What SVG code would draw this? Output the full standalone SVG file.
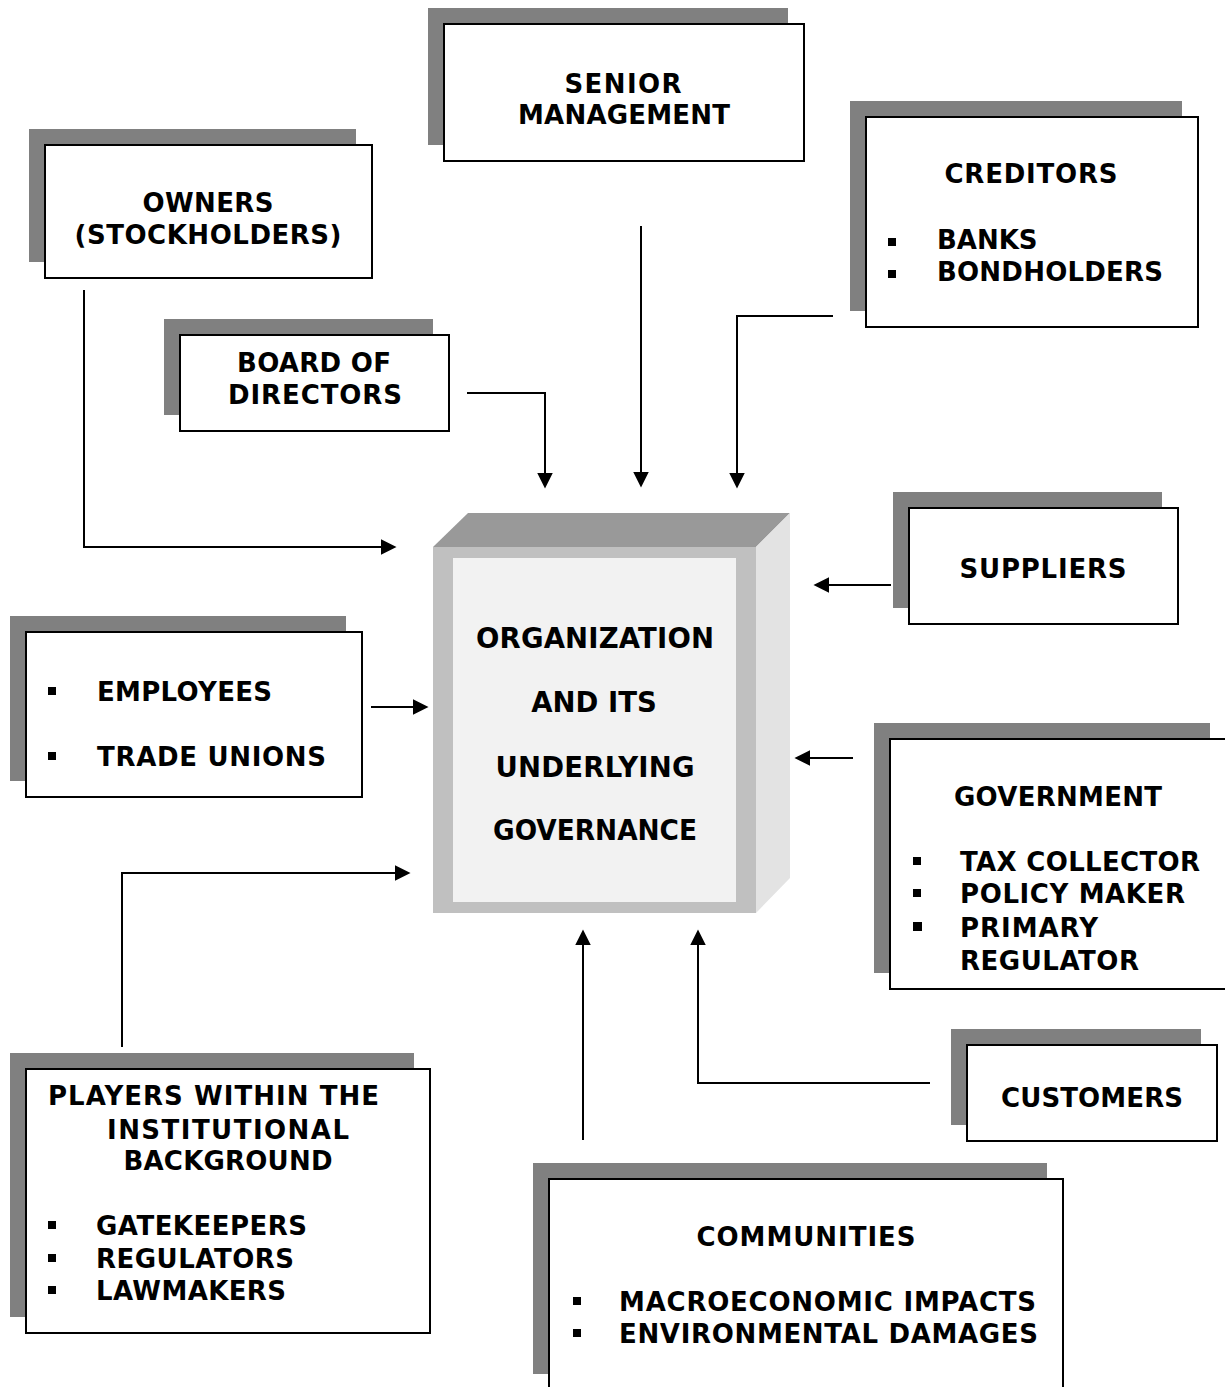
<svg xmlns="http://www.w3.org/2000/svg" width="1225" height="1387" viewBox="0 0 1225 1387">
<style>
.shadow{fill:#808080}
.box{fill:#ffffff;stroke:#000000;stroke-width:2}
.t{font-family:"DejaVu Sans","Verdana",sans-serif;font-weight:bold;font-size:26px;fill:#000000}
.c{text-anchor:middle}
.big{font-size:27.5px}
.bullet{fill:#000000}
.conn{fill:none;stroke:#000000;stroke-width:2}
</style>
<defs>
<marker id="arrow" markerUnits="userSpaceOnUse" markerWidth="16" markerHeight="16" viewBox="0 0 15 15" refX="7" refY="7.5" orient="auto">
<path d="M0,0 L15,7.5 L0,15 z" fill="#000000"/>
</marker>
</defs>
<rect width="1225" height="1387" fill="#ffffff"/>

<g id="organization">
<polygon points="433,547 468,513 790,513 756,547" fill="#999999"/>
<polygon points="756,547 790,513 790,878 756,913" fill="#e3e3e3"/>
<rect x="433" y="547" width="323" height="366" fill="#c0c0c0"/>
<rect x="453" y="558" width="283" height="344" fill="#f2f2f2"/>
<text class="t c big" x="595" y="648" textLength="238" lengthAdjust="spacing">ORGANIZATION</text>
<text class="t c big" x="594" y="712">AND ITS</text>
<text class="t c big" x="595" y="777" textLength="199" lengthAdjust="spacing">UNDERLYING</text>
<text class="t c big" x="595" y="840" textLength="204" lengthAdjust="spacingAndGlyphs">GOVERNANCE</text>
</g>

<g id="senior-management">
<rect class="shadow" x="428" y="8" width="360" height="137"/>
<rect class="box" x="444" y="24" width="360" height="137"/>
<text class="t c" x="623" y="93" textLength="117" lengthAdjust="spacing">SENIOR</text>
<text class="t c" x="624" y="124" textLength="212" lengthAdjust="spacing">MANAGEMENT</text>
</g>

<g id="owners">
<rect class="shadow" x="29" y="129" width="327" height="133"/>
<rect class="box" x="45" y="145" width="327" height="133"/>
<text class="t c" x="208" y="212" textLength="131" lengthAdjust="spacing">OWNERS</text>
<text class="t c" x="208" y="244" textLength="267" lengthAdjust="spacing">(STOCKHOLDERS)</text>
</g>

<g id="board-of-directors">
<rect class="shadow" x="164" y="319" width="269" height="96"/>
<rect class="box" x="180" y="335" width="269" height="96"/>
<text class="t c" x="314" y="372" textLength="154" lengthAdjust="spacing">BOARD OF</text>
<text class="t c" x="315" y="404" textLength="174" lengthAdjust="spacing">DIRECTORS</text>
</g>

<g id="creditors">
<rect class="shadow" x="850" y="101" width="332" height="210"/>
<rect class="box" x="866" y="117" width="332" height="210"/>
<text class="t c" x="1031" y="183" textLength="173" lengthAdjust="spacing">CREDITORS</text>
<rect class="bullet" x="888" y="238" width="8" height="8"/>
<text class="t" x="937" y="249">BANKS</text>
<rect class="bullet" x="888" y="270" width="8" height="8"/>
<text class="t" x="937" y="281" textLength="226" lengthAdjust="spacing">BONDHOLDERS</text>
</g>

<g id="suppliers">
<rect class="shadow" x="893" y="492" width="269" height="116"/>
<rect class="box" x="909" y="508" width="269" height="116"/>
<text class="t c" x="1043" y="578" textLength="167" lengthAdjust="spacing">SUPPLIERS</text>
</g>

<g id="employees">
<rect class="shadow" x="10" y="616" width="336" height="165"/>
<rect class="box" x="26" y="632" width="336" height="165"/>
<rect class="bullet" x="48" y="687" width="8" height="8"/>
<text class="t" x="97" y="701" textLength="175" lengthAdjust="spacing">EMPLOYEES</text>
<rect class="bullet" x="48" y="752" width="8" height="8"/>
<text class="t" x="97" y="766" textLength="229" lengthAdjust="spacing">TRADE UNIONS</text>
</g>

<g id="government">
<rect class="shadow" x="874" y="723" width="336" height="250"/>
<rect class="box" x="890" y="739" width="340" height="250"/>
<text class="t c" x="1058" y="806" textLength="208" lengthAdjust="spacing">GOVERNMENT</text>
<rect class="bullet" x="913" y="857" width="8" height="8"/>
<text class="t" x="960" y="871" textLength="240" lengthAdjust="spacing">TAX COLLECTOR</text>
<rect class="bullet" x="913" y="889" width="8" height="8"/>
<text class="t" x="960" y="903" textLength="225" lengthAdjust="spacing">POLICY MAKER</text>
<rect class="bullet" x="913" y="922" width="9" height="9"/>
<text class="t" x="960" y="937" textLength="138" lengthAdjust="spacing">PRIMARY</text>
<text class="t" x="960" y="970" textLength="179" lengthAdjust="spacing">REGULATOR</text>
</g>

<g id="customers">
<rect class="shadow" x="951" y="1029" width="250" height="96"/>
<rect class="box" x="967" y="1045" width="250" height="96"/>
<text class="t c" x="1092" y="1107" textLength="182" lengthAdjust="spacing">CUSTOMERS</text>
</g>

<g id="players">
<rect class="shadow" x="10" y="1053" width="404" height="264"/>
<rect class="box" x="26" y="1069" width="404" height="264"/>
<text class="t" x="48" y="1105" textLength="331" lengthAdjust="spacing">PLAYERS WITHIN THE</text>
<text class="t c" x="228" y="1139" textLength="242" lengthAdjust="spacing">INSTITUTIONAL</text>
<text class="t c" x="228" y="1170" textLength="209" lengthAdjust="spacing">BACKGROUND</text>
<rect class="bullet" x="48" y="1221" width="8" height="8"/>
<text class="t" x="96" y="1235" textLength="211" lengthAdjust="spacing">GATEKEEPERS</text>
<rect class="bullet" x="48" y="1254" width="8" height="8"/>
<text class="t" x="96" y="1268" textLength="198" lengthAdjust="spacing">REGULATORS</text>
<rect class="bullet" x="48" y="1286" width="8" height="8"/>
<text class="t" x="96" y="1300" textLength="190" lengthAdjust="spacing">LAWMAKERS</text>
</g>

<g id="communities">
<rect class="shadow" x="533" y="1163" width="514" height="211"/>
<rect class="box" x="549" y="1179" width="514" height="230"/>
<text class="t c" x="806" y="1246" textLength="219" lengthAdjust="spacing">COMMUNITIES</text>
<rect class="bullet" x="573" y="1297" width="8" height="8"/>
<text class="t" x="619" y="1311" textLength="417" lengthAdjust="spacing">MACROECONOMIC IMPACTS</text>
<rect class="bullet" x="573" y="1329" width="8" height="8"/>
<text class="t" x="619" y="1343" textLength="419" lengthAdjust="spacing">ENVIRONMENTAL DAMAGES</text>
</g>

<g id="connectors">
<path class="conn" d="M84,290 V547 H388" marker-end="url(#arrow)"/>
<path class="conn" d="M467,393 H545 V480" marker-end="url(#arrow)"/>
<path class="conn" d="M641,226 V479" marker-end="url(#arrow)"/>
<path class="conn" d="M833,316 H737 V480" marker-end="url(#arrow)"/>
<path class="conn" d="M891,585 H822" marker-end="url(#arrow)"/>
<path class="conn" d="M853,758 H803" marker-end="url(#arrow)"/>
<path class="conn" d="M371,707 H420" marker-end="url(#arrow)"/>
<path class="conn" d="M122,1047 V873 H402" marker-end="url(#arrow)"/>
<path class="conn" d="M583,1140 V938" marker-end="url(#arrow)"/>
<path class="conn" d="M930,1083 H698 V938" marker-end="url(#arrow)"/>
</g>
</svg>
